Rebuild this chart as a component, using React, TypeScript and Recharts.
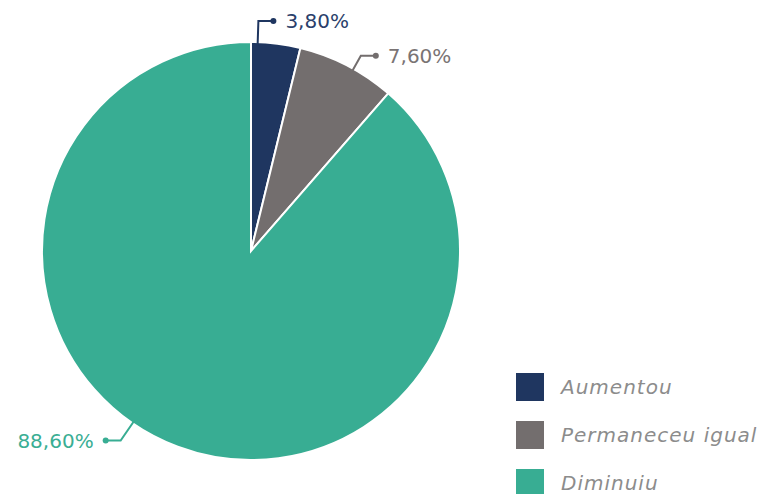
import React from "react";
import { PieChart, Pie, Cell, Legend } from "recharts";

const categories = ["Aumentou", "Permaneceu igual", "Diminuiu"];
const values = [3.8, 7.6, 88.6];

const COLORS = ["#1f3660", "#736e6e", "#38ad93"];
const TEXT_COLORS = ["#2b3f6b", "#7a7474", "#3aae94"];

// label leader placement tuning (degrees shift from mid-angle, elbow length)
const LABEL_SHIFT = [5, -2, -14];
const LABEL_ELBOW = [24, 18, 24];
const ARM = 15;
const GAP = 12;

const data = categories.map((name, i) => ({ name, value: values[i] }));

const RAD = Math.PI / 180;

const fmt = (v: number) => v.toFixed(2).replace(".", ",") + "%";

const renderLabel = (props: any) => {
  const { cx, cy, midAngle, outerRadius, index, value } = props;
  const a = (midAngle + LABEL_SHIFT[index]) * RAD;
  const r0 = outerRadius - 3;
  const r1 = r0 + LABEL_ELBOW[index];
  const x0 = cx + r0 * Math.cos(a);
  const y0 = cy - r0 * Math.sin(a);
  const x1 = cx + r1 * Math.cos(a);
  const y1 = cy - r1 * Math.sin(a);
  const right = Math.cos(a) >= 0;
  const x2 = x1 + (right ? ARM : -ARM);
  const color = COLORS[index];
  return (
    <g>
      <polyline
        points={`${x0},${y0} ${x1},${y1} ${x2},${y1}`}
        fill="none"
        stroke={color}
        strokeWidth={2}
      />
      <circle cx={x2} cy={y1} r={3} fill={color} />
      <text
        x={x2 + (right ? GAP : -GAP)}
        y={y1}
        textAnchor={right ? "start" : "end"}
        dominantBaseline="central"
        fill={TEXT_COLORS[index]}
        fontSize={20}
        fontFamily="DejaVu Sans"
      >
        {fmt(value)}
      </text>
    </g>
  );
};

const renderLegend = () => {
  return (
    <div style={{ display: "flex", flexDirection: "column" }}>
      {categories.map((name, i) => (
        <div
          key={name}
          style={{
            display: "flex",
            alignItems: "center",
            height: 28,
            marginBottom: 20,
          }}
        >
          <div
            style={{
              width: 28,
              height: 28,
              background: COLORS[i],
              marginRight: 17,
              flex: "none",
            }}
          />
          <span
            style={{
              fontFamily: "DejaVu Sans",
              fontStyle: "italic",
              fontSize: 20,
              letterSpacing: 1,
              color: "#8c8c8c",
              whiteSpace: "nowrap",
            }}
          >
            {name}
          </span>
        </div>
      ))}
    </div>
  );
};

export default function App() {
  return (
    <div style={{ position: "absolute", left: 0, top: 0, background: "#fff" }}>
      <PieChart width={764} height={494}>
        <Pie
          data={data}
          dataKey="value"
          nameKey="name"
          cx={246}
          cy={246}
          outerRadius={209}
          startAngle={90}
          endAngle={-270}
          stroke="#ffffff"
          strokeWidth={2}
          label={renderLabel}
          labelLine={false}
          isAnimationActive={false}
        >
          {data.map((d, i) => (
            <Cell key={d.name} fill={COLORS[i]} />
          ))}
        </Pie>
        <Legend
          content={renderLegend}
          wrapperStyle={{ position: "absolute", left: 516, top: 373, width: 250 }}
        />
      </PieChart>
    </div>
  );
}
